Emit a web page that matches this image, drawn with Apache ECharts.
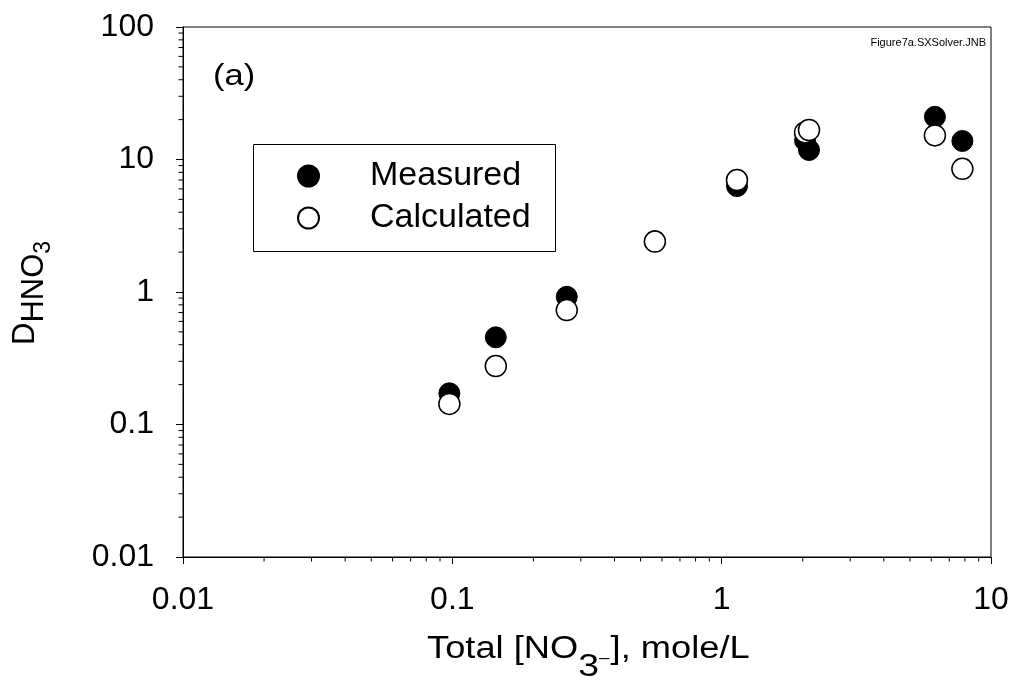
<!DOCTYPE html>
<html>
<head>
<meta charset="utf-8">
<script src="https://cdn.jsdelivr.net/npm/echarts@6/dist/echarts.min.js"></script>
<style>
html,body{margin:0;padding:0;background:#fff;}
#c{width:1013px;height:691px;}
</style>
</head>
<body>
<div id="c"></div>
<script>
// ---- data ----
const xValues = [0.0975, 0.145, 0.266, 0.565, 1.14, 2.04, 2.11, 6.19, 7.83];
const measured = [0.172, 0.455, 0.92, 2.42, 6.3, 13.9, 11.8, 21.0, 13.8];
const calculated = [0.143, 0.276, 0.73, 2.40, 7.0, 16.0, 16.7, 15.2, 8.5];
const xTickLabels = ['0.01', '0.1', '1', '10'];
const yTickLabels = ['0.01', '0.1', '1', '10', '100'];
const xMinorTicks = [0.02,0.03,0.04,0.05,0.06,0.07,0.08,0.09,0.2,0.3,0.4,0.5,0.6,0.7,0.8,0.9,2,3,4,5,6,7,8,9];
const yMinorTicks = [0.02,0.03,0.04,0.05,0.06,0.07,0.08,0.09,0.2,0.3,0.4,0.5,0.6,0.7,0.8,0.9,2,3,4,5,6,7,8,9,20,30,40,50,60,70,80,90];
const seriesNames = ['Measured', 'Calculated'];

const FONT = '"Liberation Sans", Arial, Helvetica, sans-serif';
const INK = '#000';
const X_MIN = 0.01, X_MAX = 10, Y_MIN = 0.01, Y_MAX = 100;

function labelFor(list) {
  return function (v) {
    const e = Math.round(Math.log10(v));
    for (const s of list) { if (Math.round(Math.log10(parseFloat(s))) === e) return s; }
    return '';
  };
}

const mctx = document.createElement('canvas').getContext('2d');
function textW(t, size) { mctx.font = size + 'px ' + FONT; return mctx.measureText(t).width; }
function buildRun(parts) {
  let x = 0; const els = [];
  for (const p of parts) {
    els.push({ type: 'text', x: x, y: p.dy || 0,
      style: { text: p.t, font: p.size + 'px ' + FONT, fill: INK, align: 'left', verticalAlign: 'middle' } });
    x += textW(p.t, p.size) + (p.after || 0);
  }
  return els;
}

const chart = echarts.init(document.getElementById('c'), null, { renderer: 'canvas' });

const pts = (ys) => xValues.map((x, i) => [x, ys[i]]);

function minorTickSeries(values, axis) {
  return {
    type: 'custom', coordinateSystem: 'cartesian2d', silent: true, clip: false, z: 5,
    data: values.map(v => axis === 'x' ? [v, Y_MIN] : [X_MIN, v]),
    renderItem: function (params, api) {
      const p = api.coord([api.value(0), api.value(1)]);
      const shape = axis === 'x'
        ? { x1: p[0], y1: p[1], x2: p[0], y2: p[1] + 4.5 }
        : { x1: p[0], y1: p[1], x2: p[0] - 4.5, y2: p[1] };
      return { type: 'line', shape: shape, style: { stroke: INK, lineWidth: 1 } };
    }
  };
}

const option = {
  animation: false,
  backgroundColor: '#fff',
  grid: { left: 183, right: 22, top: 27, bottom: 134, show: true, borderColor: INK, borderWidth: 1, containLabel: false },
  xAxis: {
    type: 'log', logBase: 10, min: X_MIN, max: X_MAX,
    axisLine: { show: true, lineStyle: { color: INK, width: 1 } },
    axisTick: { show: true, inside: false, length: 7, lineStyle: { color: INK } },
    axisLabel: { margin: 27, fontSize: 32, fontFamily: FONT, color: INK, formatter: labelFor(xTickLabels) },
    splitLine: { show: false }, minorTick: { show: false }
  },
  yAxis: {
    type: 'log', logBase: 10, min: Y_MIN, max: Y_MAX,
    axisLine: { show: true, lineStyle: { color: INK, width: 1 } },
    axisTick: { show: true, inside: false, length: 7, lineStyle: { color: INK } },
    axisLabel: { margin: 29, fontSize: 32, fontFamily: FONT, color: INK, formatter: labelFor(yTickLabels) },
    splitLine: { show: false }, minorTick: { show: false }
  },
  legend: {
    data: seriesNames,
    orient: 'vertical', left: 297, top: 159, padding: 0,
    itemWidth: 21, itemHeight: 21, itemGap: 8,
    icon: 'circle',
    formatter: function (n) { return '{sp| }{t|' + n + '}'; },
    textStyle: {
      color: INK, fontFamily: FONT, fontSize: 34, lineHeight: 21,
      rich: { sp: { width: 46, fontSize: 34, lineHeight: 21 }, t: { fontSize: 34, fontFamily: FONT, color: INK, lineHeight: 21 } }
    },
    selectedMode: false
  },
  series: [
    { name: 'Measured', type: 'scatter', data: pts(measured), symbol: 'circle', symbolSize: 21,
      itemStyle: { color: '#000', borderColor: '#000', borderWidth: 1, opacity: 1 }, z: 3 },
    { name: 'Calculated', type: 'scatter', data: pts(calculated), symbol: 'circle', symbolSize: 21,
      itemStyle: { color: '#fff', borderColor: '#000', borderWidth: 1.5, opacity: 1 }, z: 4 },
    minorTickSeries(xMinorTicks, 'x'),
    minorTickSeries(yMinorTicks, 'y')
  ],
  graphic: [
    { type: 'rect', left: 251, top: 142, shape: { width: 302, height: 107 }, style: { fill: 'none', stroke: INK, lineWidth: 1 }, z: 1 },
    { type: 'text', x: 213, y: 77, scaleX: 1.15, style: { text: '(a)', font: '30px ' + FONT, fill: INK, align: 'left', verticalAlign: 'middle' } },
    { type: 'text', x: 986, y: 43, style: { text: 'Figure7a.SXSolver.JNB', font: '11px ' + FONT, fill: INK, align: 'right', verticalAlign: 'middle' } },
    { type: 'group', x: 427, y: 649, scaleX: 1.17, children: buildRun([
        { t: 'Total [NO', size: 31 },
        { t: '3', size: 32, dy: 18 },
        { t: '\u2013', size: 16, dy: 10, after: 1 },
        { t: '], mole/L', size: 31 }
      ]) },
    { type: 'group', x: 25, y: 345, rotation: Math.PI / 2, children: buildRun([
        { t: 'D', size: 31 },
        { t: 'HNO', size: 31, dy: 9.5 },
        { t: '3', size: 23, dy: 19 }
      ]) }
  ]
};
chart.setOption(option);
</script>
</body>
</html>
